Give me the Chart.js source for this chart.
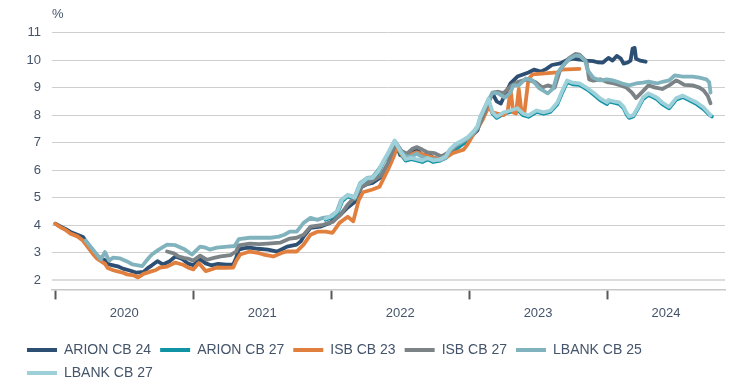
<!DOCTYPE html>
<html>
<head>
<meta charset="utf-8">
<script src="https://cdn.jsdelivr.net/npm/chart.js@4/dist/chart.umd.min.js"></script>
<style>
  html, body { margin: 0; padding: 0; background: #ffffff; }
  #yieldChart { display: block; }
</style>
</head>
<body>
<canvas id="yieldChart" width="736" height="383"></canvas>
<script>
(function () {
    'use strict';

    /* ===== Data: [decimal year, yield %] ===== */

    var SERIES_NAMES = ['ARION CB 24', 'ARION CB 27', 'ISB CB 23', 'ISB CB 27', 'LBANK CB 25', 'LBANK CB 27'];
    var SERIES_COLORS = ['#2c4f73', '#1193a6', '#e07f3e', '#7c8386', '#80b3bd', '#9dd0d9'];

    var ARION_CB_24 = [
        [2020.00, 4.06], [2020.04, 3.95], [2020.07, 3.88], [2020.11, 3.76], [2020.16, 3.66], [2020.20, 3.58],
        [2020.23, 3.36], [2020.27, 3.08], [2020.30, 2.90], [2020.33, 2.82], [2020.36, 2.74], [2020.39, 2.58],
        [2020.42, 2.55], [2020.46, 2.50], [2020.49, 2.43], [2020.54, 2.36], [2020.59, 2.28], [2020.64, 2.31],
        [2020.67, 2.45], [2020.70, 2.55], [2020.74, 2.70], [2020.78, 2.58], [2020.83, 2.70], [2020.87, 2.87],
        [2020.92, 2.78], [2020.96, 2.62], [2021.00, 2.55], [2021.05, 2.77], [2021.09, 2.62], [2021.13, 2.55],
        [2021.18, 2.60], [2021.24, 2.57], [2021.29, 2.58], [2021.31, 2.80], [2021.33, 3.12], [2021.37, 3.17],
        [2021.41, 3.19], [2021.47, 3.15], [2021.54, 3.12], [2021.61, 3.05], [2021.65, 3.15], [2021.68, 3.23],
        [2021.75, 3.30], [2021.78, 3.42], [2021.80, 3.59], [2021.85, 3.91], [2021.92, 3.95], [2021.99, 4.09],
        [2022.06, 4.35], [2022.12, 4.65], [2022.17, 4.85], [2022.22, 5.39], [2022.26, 5.50], [2022.30, 5.54],
        [2022.36, 5.75], [2022.41, 6.12], [2022.44, 6.48], [2022.47, 6.95], [2022.50, 6.55], [2022.54, 6.50],
        [2022.57, 6.60], [2022.62, 6.75], [2022.66, 6.55], [2022.70, 6.60], [2022.74, 6.45], [2022.79, 6.40],
        [2022.83, 6.45], [2022.86, 6.70], [2022.90, 6.85], [2022.94, 6.95], [2022.99, 7.05], [2023.03, 7.30],
        [2023.06, 7.45], [2023.08, 7.75], [2023.12, 8.20], [2023.15, 8.60], [2023.17, 8.78], [2023.20, 8.50],
        [2023.23, 8.42], [2023.26, 8.75], [2023.30, 9.15], [2023.35, 9.40], [2023.43, 9.55], [2023.47, 9.65],
        [2023.52, 9.58], [2023.56, 9.68], [2023.60, 9.82], [2023.66, 9.88], [2023.71, 10.00], [2023.75, 10.05],
        [2023.80, 10.02], [2023.85, 9.98], [2023.90, 9.96], [2023.93, 9.92], [2023.97, 9.91], [2024.01, 10.08],
        [2024.04, 9.98], [2024.07, 10.15], [2024.10, 10.05], [2024.12, 9.87], [2024.15, 9.91], [2024.17, 9.98],
        [2024.185, 10.42], [2024.20, 10.44], [2024.21, 10.05], [2024.24, 9.98], [2024.28, 9.94]
    ];

    var ARION_CB_27 = [
        [2021.96, 4.20], [2022.01, 4.30], [2022.05, 4.50], [2022.08, 4.88], [2022.12, 5.05], [2022.17, 4.95],
        [2022.21, 5.45], [2022.26, 5.65], [2022.30, 5.68], [2022.34, 5.90], [2022.38, 6.30], [2022.42, 6.62],
        [2022.46, 6.95], [2022.50, 6.62], [2022.54, 6.35], [2022.58, 6.40], [2022.62, 6.36], [2022.66, 6.30],
        [2022.70, 6.40], [2022.74, 6.30], [2022.79, 6.35], [2022.83, 6.45], [2022.86, 6.68], [2022.90, 6.75],
        [2022.94, 6.90], [2022.99, 7.10], [2023.03, 7.32], [2023.06, 7.55], [2023.08, 7.85], [2023.12, 8.28],
        [2023.14, 8.52], [2023.17, 8.05], [2023.20, 7.90], [2023.25, 8.05], [2023.30, 8.12], [2023.35, 8.20],
        [2023.39, 8.00], [2023.43, 7.94], [2023.49, 8.12], [2023.54, 8.05], [2023.59, 8.12], [2023.64, 8.40],
        [2023.67, 8.76], [2023.71, 9.20], [2023.75, 9.12], [2023.80, 9.10], [2023.86, 8.92], [2023.90, 8.76],
        [2023.95, 8.55], [2024.00, 8.40], [2024.01, 8.50], [2024.05, 8.45], [2024.09, 8.40], [2024.12, 8.25],
        [2024.14, 8.04], [2024.16, 7.90], [2024.19, 7.95], [2024.22, 8.20], [2024.26, 8.58], [2024.30, 8.74],
        [2024.36, 8.58], [2024.40, 8.40], [2024.45, 8.25], [2024.50, 8.56], [2024.55, 8.66], [2024.59, 8.56],
        [2024.65, 8.40], [2024.70, 8.22], [2024.74, 8.02], [2024.76, 7.95]
    ];

    var ISB_CB_23 = [
        [2020.00, 4.06], [2020.04, 3.92], [2020.07, 3.85], [2020.11, 3.70], [2020.16, 3.60], [2020.20, 3.45],
        [2020.23, 3.25], [2020.27, 2.98], [2020.30, 2.80], [2020.33, 2.70], [2020.36, 2.60], [2020.38, 2.45],
        [2020.42, 2.37], [2020.45, 2.33], [2020.49, 2.28], [2020.52, 2.22], [2020.57, 2.18], [2020.60, 2.11],
        [2020.64, 2.24], [2020.69, 2.32], [2020.73, 2.38], [2020.76, 2.47], [2020.81, 2.50], [2020.87, 2.65],
        [2020.93, 2.56], [2020.97, 2.45], [2021.00, 2.40], [2021.04, 2.63], [2021.09, 2.34], [2021.13, 2.40],
        [2021.17, 2.47], [2021.23, 2.46], [2021.29, 2.47], [2021.31, 2.70], [2021.34, 2.94], [2021.41, 3.05],
        [2021.47, 3.00], [2021.51, 2.94], [2021.58, 2.87], [2021.64, 3.00], [2021.68, 3.05], [2021.75, 3.05],
        [2021.80, 3.30], [2021.85, 3.66], [2021.90, 3.77], [2021.96, 3.77], [2022.01, 3.73], [2022.06, 4.09],
        [2022.12, 4.31], [2022.16, 4.15], [2022.20, 4.92], [2022.23, 5.20], [2022.30, 5.30], [2022.35, 5.40],
        [2022.38, 5.70], [2022.41, 6.00], [2022.45, 6.45], [2022.48, 6.85], [2022.52, 6.50], [2022.57, 6.55],
        [2022.62, 6.65], [2022.68, 6.55], [2022.72, 6.50], [2022.77, 6.40], [2022.81, 6.44], [2022.84, 6.48],
        [2022.88, 6.62], [2022.93, 6.70], [2022.96, 6.75], [2022.99, 6.95], [2023.03, 7.30], [2023.07, 7.60],
        [2023.10, 7.85], [2023.14, 8.30], [2023.17, 8.10], [2023.21, 8.05], [2023.25, 8.00], [2023.28, 8.15],
        [2023.30, 8.95], [2023.32, 8.10], [2023.34, 8.06], [2023.36, 8.95], [2023.38, 8.10], [2023.40, 8.06],
        [2023.43, 9.30], [2023.46, 9.48], [2023.55, 9.52], [2023.64, 9.55], [2023.67, 9.65], [2023.80, 9.68]
    ];

    var ISB_CB_27 = [
        [2020.81, 3.05], [2020.86, 2.98], [2020.89, 2.88], [2020.93, 2.82], [2020.97, 2.78], [2021.00, 2.72],
        [2021.05, 2.90], [2021.10, 2.75], [2021.15, 2.82], [2021.20, 2.87], [2021.27, 2.92], [2021.31, 3.05],
        [2021.33, 3.27], [2021.41, 3.34], [2021.48, 3.32], [2021.54, 3.34], [2021.63, 3.37], [2021.70, 3.52],
        [2021.75, 3.55], [2021.80, 3.66], [2021.85, 3.95], [2021.94, 4.02], [2022.01, 4.12], [2022.07, 4.40],
        [2022.12, 4.75], [2022.18, 5.05], [2022.22, 5.40], [2022.30, 5.62], [2022.36, 5.80], [2022.41, 6.25],
        [2022.45, 6.75], [2022.47, 7.00], [2022.51, 6.70], [2022.55, 6.60], [2022.59, 6.78], [2022.62, 6.84],
        [2022.66, 6.75], [2022.70, 6.65], [2022.75, 6.62], [2022.80, 6.50], [2022.85, 6.65], [2022.90, 6.85],
        [2022.95, 7.05], [2023.00, 7.20], [2023.04, 7.40], [2023.07, 7.60], [2023.10, 7.95], [2023.14, 8.45],
        [2023.17, 8.82], [2023.21, 8.85], [2023.25, 8.80], [2023.30, 9.05], [2023.35, 9.20], [2023.42, 9.30],
        [2023.48, 9.20], [2023.53, 9.00], [2023.57, 9.08], [2023.62, 9.00], [2023.66, 9.65], [2023.72, 10.05],
        [2023.77, 10.22], [2023.80, 10.20], [2023.85, 9.95], [2023.87, 9.30], [2023.90, 9.25], [2023.95, 9.30],
        [2024.00, 9.20], [2024.05, 9.15], [2024.10, 9.08], [2024.14, 9.00], [2024.18, 8.82], [2024.21, 8.62],
        [2024.25, 8.82], [2024.30, 9.08], [2024.35, 9.00], [2024.40, 8.95], [2024.45, 9.08], [2024.50, 9.26],
        [2024.52, 9.22], [2024.56, 9.10], [2024.62, 9.08], [2024.67, 9.00], [2024.70, 8.90], [2024.73, 8.70],
        [2024.75, 8.43]
    ];

    var LBANK_CB_25 = [
        [2020.22, 3.45], [2020.26, 3.20], [2020.30, 2.95], [2020.33, 2.76], [2020.36, 3.03], [2020.39, 2.72],
        [2020.42, 2.83], [2020.47, 2.80], [2020.52, 2.69], [2020.56, 2.58], [2020.60, 2.55], [2020.63, 2.52],
        [2020.65, 2.65], [2020.68, 2.83], [2020.70, 2.94], [2020.75, 3.12], [2020.81, 3.30], [2020.87, 3.28],
        [2020.94, 3.12], [2020.99, 2.94], [2021.05, 3.23], [2021.09, 3.19], [2021.12, 3.12], [2021.17, 3.19],
        [2021.25, 3.23], [2021.30, 3.25], [2021.33, 3.50], [2021.41, 3.55], [2021.49, 3.55], [2021.56, 3.55],
        [2021.62, 3.59], [2021.66, 3.66], [2021.70, 3.77], [2021.75, 3.77], [2021.80, 4.09], [2021.85, 4.27],
        [2021.90, 4.20], [2021.94, 4.27], [2021.99, 4.31], [2022.04, 4.49], [2022.07, 4.90], [2022.12, 5.10],
        [2022.17, 5.03], [2022.21, 5.54], [2022.26, 5.72], [2022.30, 5.75], [2022.34, 6.01], [2022.38, 6.30],
        [2022.42, 6.66], [2022.46, 7.05], [2022.50, 6.73], [2022.54, 6.50], [2022.58, 6.50], [2022.62, 6.60],
        [2022.66, 6.48], [2022.70, 6.42], [2022.74, 6.40], [2022.79, 6.37], [2022.83, 6.44], [2022.86, 6.73],
        [2022.90, 6.90], [2022.94, 7.00], [2022.99, 7.16], [2023.03, 7.34], [2023.06, 7.52], [2023.08, 7.92],
        [2023.13, 8.46], [2023.17, 8.82], [2023.21, 8.79], [2023.26, 8.64], [2023.30, 8.82], [2023.32, 9.08],
        [2023.36, 9.08], [2023.41, 9.33], [2023.46, 9.26], [2023.51, 8.97], [2023.57, 8.79], [2023.61, 8.97],
        [2023.64, 9.51], [2023.68, 9.80], [2023.73, 10.05], [2023.77, 10.16], [2023.80, 10.16], [2023.84, 9.98],
        [2023.86, 9.62], [2023.90, 9.36], [2023.95, 9.26], [2024.00, 9.30], [2024.04, 9.26], [2024.07, 9.22],
        [2024.11, 9.15], [2024.16, 9.08], [2024.21, 9.15], [2024.26, 9.18], [2024.30, 9.22], [2024.36, 9.15],
        [2024.41, 9.22], [2024.45, 9.26], [2024.49, 9.44], [2024.55, 9.40], [2024.62, 9.40], [2024.67, 9.36],
        [2024.72, 9.30], [2024.74, 9.20], [2024.75, 8.82]
    ];

    var LBANK_CB_27 = [
        [2021.96, 4.25], [2022.01, 4.35], [2022.05, 4.55], [2022.08, 4.95], [2022.12, 5.10], [2022.17, 5.00],
        [2022.21, 5.50], [2022.26, 5.70], [2022.30, 5.72], [2022.34, 5.95], [2022.38, 6.35], [2022.42, 6.70],
        [2022.46, 7.08], [2022.50, 6.70], [2022.54, 6.40], [2022.58, 6.45], [2022.62, 6.40], [2022.66, 6.35],
        [2022.70, 6.45], [2022.74, 6.35], [2022.79, 6.40], [2022.83, 6.50], [2022.86, 6.75], [2022.90, 6.95],
        [2022.94, 7.05], [2022.99, 7.20], [2023.03, 7.40], [2023.06, 7.60], [2023.08, 7.92], [2023.12, 8.35],
        [2023.14, 8.60], [2023.17, 8.10], [2023.20, 7.95], [2023.25, 8.10], [2023.30, 8.17], [2023.35, 8.25],
        [2023.39, 8.06], [2023.43, 7.99], [2023.49, 8.17], [2023.54, 8.10], [2023.59, 8.17], [2023.64, 8.46],
        [2023.67, 8.82], [2023.71, 9.26], [2023.75, 9.18], [2023.80, 9.15], [2023.86, 8.97], [2023.90, 8.82],
        [2023.95, 8.61], [2024.00, 8.46], [2024.01, 8.55], [2024.05, 8.50], [2024.09, 8.46], [2024.12, 8.30],
        [2024.14, 8.10], [2024.16, 7.95], [2024.19, 8.00], [2024.22, 8.25], [2024.26, 8.64], [2024.30, 8.79],
        [2024.36, 8.64], [2024.40, 8.46], [2024.45, 8.30], [2024.50, 8.61], [2024.55, 8.71], [2024.59, 8.61],
        [2024.65, 8.46], [2024.70, 8.28], [2024.74, 8.06], [2024.75, 7.99]
    ];

    var SERIES_DATA = [ARION_CB_24, ARION_CB_27, ISB_CB_23, ISB_CB_27, LBANK_CB_25, LBANK_CB_27];

    var YEAR_TICKS = [2020, 2021, 2022, 2023, 2024];
    var YEAR_LABELS = ['2020', '2021', '2022', '2023', '2024'];
    var Y_TICKS = [2, 3, 4, 5, 6, 7, 8, 9, 10, 11];
    var UNIT_LABEL = '%';

    var X_MIN = 2019.976;
    var X_MAX = 2024.855;
    var Y_MIN = 1.675;
    var Y_MAX = 11;

    var TEXT_COLOR = '#44546a';
    var FONT_FAMILY = '"Liberation Sans", Arial, sans-serif';

    /* ===== Axis helpers ===== */

    // year labels sit midway between the yearly tick marks
    function labelPositions() {
        return YEAR_TICKS.map(function (y, i) {
            var next = i < YEAR_TICKS.length - 1 ? YEAR_TICKS[i + 1] : X_MAX;
            return (y + next) / 2;
        });
    }

    function isYearTick(v) {
        return YEAR_TICKS.indexOf(v) !== -1;
    }

    var unitLabelPlugin = {
        id: 'unitLabel',
        afterDraw: function (chart) {
            var ctx = chart.ctx;
            ctx.save();
            ctx.font = '13px ' + FONT_FAMILY;
            ctx.fillStyle = TEXT_COLOR;
            ctx.textBaseline = 'middle';
            ctx.textAlign = 'left';
            ctx.fillText(UNIT_LABEL, chart.chartArea.left, 14);
            ctx.restore();
        }
    };

    /* ===== Chart ===== */

    var datasets = SERIES_NAMES.map(function (name, i) {
        return {
            label: name,
            data: SERIES_DATA[i].map(function (p) { return { x: p[0], y: p[1] }; }),
            borderColor: SERIES_COLORS[i],
            backgroundColor: SERIES_COLORS[i],
            borderWidth: 3.8,
            borderJoinStyle: 'round',
            borderCapStyle: 'round',
            pointRadius: 0,
            tension: 0,
            fill: false,
            // later series are painted over earlier ones
            order: SERIES_NAMES.length - i
        };
    });

    var el = document.getElementById('yieldChart');
    new Chart(el, {
        type: 'line',
        data: { datasets: datasets },
        plugins: [unitLabelPlugin],
        options: {
            responsive: false,
            animation: false,
            devicePixelRatio: 1,
            layout: { padding: { left: 18, right: 11, top: 32.5, bottom: -7 } },
            plugins: {
                tooltip: { enabled: false },
                legend: {
                    position: 'bottom',
                    align: 'start',
                    labels: {
                        color: TEXT_COLOR,
                        font: { family: FONT_FAMILY, size: 14 },
                        boxWidth: 30,
                        boxHeight: 4,
                        padding: 9,
                        generateLabels: function (chart) {
                            var items = Chart.defaults.plugins.legend.labels.generateLabels(chart);
                            items.forEach(function (it) {
                                it.lineWidth = 0;
                                it.fillStyle = SERIES_COLORS[it.datasetIndex];
                            });
                            return items.sort(function (a, b) { return a.datasetIndex - b.datasetIndex; });
                        }
                    }
                }
            },
            scales: {
                x: {
                    type: 'linear',
                    min: X_MIN,
                    max: X_MAX,
                    afterBuildTicks: function (scale) {
                        var vals = YEAR_TICKS.concat(labelPositions());
                        vals.sort(function (a, b) { return a - b; });
                        scale.ticks = vals.map(function (v) { return { value: v }; });
                    },
                    afterFit: function (scale) {
                        scale.height += 7;
                    },
                    ticks: {
                        autoSkip: false,
                        maxRotation: 0,
                        padding: 6,
                        color: TEXT_COLOR,
                        font: { family: FONT_FAMILY, size: 13 },
                        callback: function (value) {
                            var idx = labelPositions().indexOf(value);
                            return idx === -1 ? '' : YEAR_LABELS[idx];
                        }
                    },
                    grid: {
                        drawOnChartArea: false,
                        tickLength: 10,
                        tickWidth: 2,
                        tickColor: function (ctx) {
                            return ctx.tick && isYearTick(ctx.tick.value) ? '#595959' : 'rgba(0,0,0,0)';
                        }
                    },
                    border: { display: true, color: '#c8c8c8', width: 1.5 }
                },
                y: {
                    min: Y_MIN,
                    max: Y_MAX,
                    afterBuildTicks: function (scale) {
                        scale.ticks = Y_TICKS.map(function (v) { return { value: v }; });
                    },
                    afterFit: function (scale) {
                        scale.width = 34;
                    },
                    ticks: {
                        padding: 11,
                        color: TEXT_COLOR,
                        font: { family: FONT_FAMILY, size: 13 }
                    },
                    grid: {
                        drawTicks: false,
                        color: function (ctx) {
                            return ctx.tick && ctx.tick.value === 2 ? '#dcdcdc' : '#cfcfcf';
                        },
                        lineWidth: function (ctx) {
                            return ctx.tick && ctx.tick.value === 2 ? 2 : 1;
                        }
                    },
                    border: { display: false }
                }
            }
        }
    });
})();
</script>
</body>
</html>
